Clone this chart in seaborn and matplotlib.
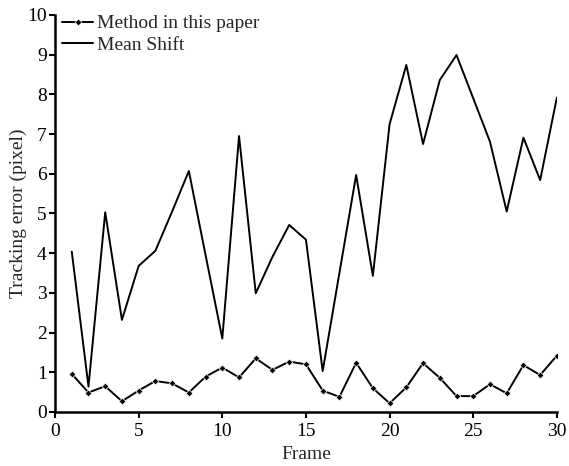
import numpy as np
import pandas as pd
import matplotlib
matplotlib.use("Agg")
import matplotlib.pyplot as plt
import seaborn as sns

frames = list(range(1, 31))
method_error = [0.96, 0.49, 0.65, 0.27, 0.54, 0.78, 0.72, 0.49, 0.89, 1.12,
                0.87, 1.35, 1.06, 1.27, 1.20, 0.54, 0.38, 1.24, 0.60, 0.22,
                0.62, 1.23, 0.86, 0.40, 0.40, 0.70, 0.47, 1.18, 0.93, 1.42]
meanshift_error = [4.04, 0.64, 5.03, 2.32, 3.68, 4.06, 5.05, 6.07, 3.95, 1.85,
                   6.95, 2.99, 3.91, 4.71, 4.34, 1.03, 3.50, 5.97, 3.43, 7.25,
                   8.74, 6.75, 8.36, 8.99, 7.90, 6.81, 5.05, 6.91, 5.84, 7.92]
series_names = ["Method in this paper", "Mean Shift"]
x_ticks = [0, 5, 10, 15, 20, 25, 30]
y_ticks = list(range(0, 11))

sns.set_style("ticks")
plt.rcParams["font.family"] = ["Liberation Serif", "DejaVu Serif"]

fig = plt.figure(figsize=(5.69, 4.66), dpi=100)
ax = fig.add_axes([0.0967, 0.1159, 0.882, 0.852])

sns.lineplot(x=frames, y=method_error, color="black", marker="D",
             markersize=3.5, markeredgewidth=0.5, linewidth=1.4,
             label=series_names[0], ax=ax)
sns.lineplot(x=frames, y=meanshift_error, color="black", linewidth=1.4,
             label=series_names[1], ax=ax)

ax.set_xlim(0, 30)
ax.set_ylim(0, 10)
ax.set_xticks(x_ticks)
ax.set_yticks(y_ticks)
ax.tick_params(axis="both", direction="out", length=4, width=1.5, labelsize=14, colors="black")
ax.tick_params(axis="x", pad=4)
ax.tick_params(axis="y", pad=2)
for side in ["left", "bottom"]:
    ax.spines[side].set_linewidth(1.8)
    ax.spines[side].set_color("black")
sns.despine(ax=ax)

ax.set_xlabel("Frame", fontsize=14, labelpad=4)
ax.set_ylabel("Tracking error (pixel)", fontsize=14, labelpad=0)

leg = ax.legend(loc="upper left", frameon=False, fontsize=14, handlelength=1.6,
                handletextpad=0.2, labelspacing=0.2, borderaxespad=0.1,
                bbox_to_anchor=(-0.005, 1.025))

fig.savefig("out.png", dpi=100)
